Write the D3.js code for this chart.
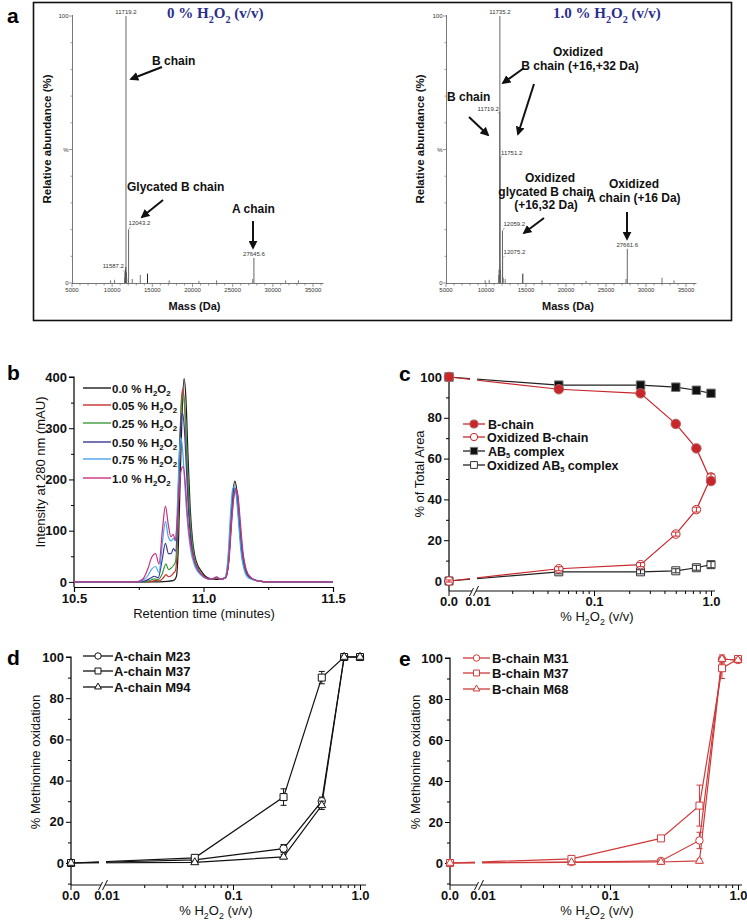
<!DOCTYPE html>
<html>
<head>
<meta charset="utf-8">
<script src="https://cdn.jsdelivr.net/npm/d3@7"></script>
<style>
  body { margin: 0; background: #fff; }
  svg { display: block; font-family: "Liberation Sans", Arial, Helvetica, sans-serif; }
</style>
</head>
<body>
<svg id="fig" width="747" height="920"></svg>
<script>
// ---------- data ----------
// panel a : deconvoluted mass spectra (mass in Da, relative abundance in %)
var massTicks = [5000, 10000, 15000, 20000, 25000, 30000, 35000];
var spec0Mass = [11587.2, 11719.2, 12043.2, 27645.6];
var spec0Abund = [4, 100, 20, 9.4];
var spec0Minor = [[9800, 1], [10300, 1.2], [11550, 2], [11650, 5], [11690, 6], [11760, 4], [11820, 2],
  [12500, 1.5], [13500, 3], [14400, 3.5], [17100, 1], [20800, 0.8], [23000, 1], [27500, 1.5], [31600, 1], [33200, 1]];
var spec1Mass = [11719.2, 11735.2, 11751.2, 12059.2, 12075.2, 27661.6];
var spec1Abund = [64, 100, 47, 19.5, 9.4, 12.8];
var spec1Minor = [[9900, 1], [10400, 1.2], [11600, 3], [11650, 5], [11690, 6], [11780, 5], [11830, 3],
  [12150, 2], [12400, 1.5], [14600, 3.5], [17000, 1], [22500, 0.8], [27500, 1.5], [32000, 2], [33500, 1]];

// panel b : chromatograms [time (min), mAU]
var chromLabels = ['0.0', '0.05', '0.25', '0.50', '0.75', '1.0'];
var chrom000 = [[10.5,0],[10.8,0],[10.86,1],[10.885,3],[10.895,10],[10.903,70],[10.91,200],[10.918,340],[10.925,397],[10.932,360],[10.94,250],[10.948,150],[10.957,85],[10.967,50],[10.978,32],[10.99,22],[11.005,12],[11.03,6],[11.06,5],[11.085,8],[11.097,40],[11.107,120],[11.115,180],[11.121,197],[11.128,180],[11.137,120],[11.147,60],[11.16,25],[11.18,8],[11.21,2],[11.25,0],[11.5,0]];
var chrom005 = [[10.5,0],[10.78,0],[10.8,1],[10.815,3],[10.83,2],[10.845,8],[10.855,14],[10.865,10],[10.875,12],[10.884,17],[10.892,22],[10.9,90],[10.907,230],[10.914,350],[10.92,377],[10.927,345],[10.935,250],[10.943,150],[10.952,85],[10.962,48],[10.975,28],[10.99,16],[11.005,9],[11.03,5],[11.05,7],[11.065,5],[11.085,8],[11.098,40],[11.11,125],[11.118,170],[11.125,182],[11.132,170],[11.14,120],[11.15,62],[11.163,25],[11.18,9],[11.21,2],[11.25,0],[11.5,0]];
var chrom025 = [[10.5,0],[10.77,0],[10.79,2],[10.81,6],[10.825,4],[10.84,15],[10.855,35],[10.865,24],[10.875,27],[10.884,32],[10.892,40],[10.9,110],[10.908,250],[10.915,345],[10.922,365],[10.929,330],[10.937,240],[10.945,150],[10.954,88],[10.964,50],[10.976,30],[10.99,17],[11.005,9],[11.03,5],[11.05,8],[11.065,5],[11.085,8],[11.097,40],[11.108,125],[11.117,172],[11.123,180],[11.13,172],[11.138,125],[11.148,65],[11.16,27],[11.18,9],[11.21,2],[11.25,0],[11.5,0]];
var chrom050 = [[10.5,0],[10.75,0],[10.775,2],[10.795,7],[10.81,11],[10.825,8],[10.84,42],[10.853,75],[10.865,55],[10.875,55],[10.884,65],[10.892,60],[10.9,130],[10.907,250],[10.914,320],[10.919,330],[10.926,300],[10.934,220],[10.942,140],[10.951,82],[10.962,45],[10.975,26],[10.99,15],[11.005,8],[11.03,5],[11.05,9],[11.065,5],[11.085,9],[11.096,45],[11.107,130],[11.115,178],[11.12,183],[11.128,170],[11.137,118],[11.147,60],[11.16,24],[11.18,8],[11.21,2],[11.25,0],[11.5,0]];
var chrom075 = [[10.5,0],[10.74,0],[10.765,3],[10.785,12],[10.8,25],[10.815,30],[10.828,18],[10.842,80],[10.853,118],[10.864,88],[10.875,80],[10.884,85],[10.892,80],[10.9,160],[10.907,255],[10.912,282],[10.918,265],[10.925,215],[10.933,150],[10.942,95],[10.952,58],[10.964,34],[10.978,20],[10.993,12],[11.01,7],[11.03,5],[11.05,9],[11.065,5],[11.083,9],[11.094,45],[11.104,130],[11.112,180],[11.118,186],[11.126,170],[11.135,118],[11.145,58],[11.158,22],[11.175,7],[11.21,2],[11.25,0],[11.5,0]];
var chrom100 = [[10.5,0],[10.74,0],[10.765,5],[10.785,25],[10.8,48],[10.815,55],[10.828,35],[10.842,105],[10.853,148],[10.864,112],[10.874,88],[10.883,93],[10.891,82],[10.9,130],[10.908,195],[10.916,222],[10.922,225],[10.93,190],[10.938,130],[10.947,85],[10.957,55],[10.97,33],[10.985,19],[11.0,11],[11.02,6],[11.04,7],[11.05,10],[11.065,5],[11.085,8],[11.097,40],[11.109,125],[11.118,170],[11.125,180],[11.133,168],[11.142,118],[11.152,60],[11.165,24],[11.183,8],[11.21,2],[11.25,0],[11.5,0]];

// panels c-e : % H2O2 (v/v)
var h2o2Dose = [0, 0.05, 0.25, 0.5, 0.75, 1.0];
var bChain = [100, 94, 92, 77, 65, 49];
var oxBChain = [0, 6, 8, 23, 35, 51];
var ab5 = [100, 96, 96, 95, 93.5, 92];
var oxAb5 = [0, 4.5, 4.5, 5, 6.5, 8];
var areaErr = [0.5, 1, 1, 1, 1.2, 1.5];

var aM23 = [0, 1.5, 7, 30, 100, 100];
var aM37 = [0, 2.5, 32, 90, 100, 100];
var aM94 = [0, 0.3, 3, 28, 100, 100];
var aM23Err = [0, 0.5, 2, 2, 0.5, 0.5];
var aM37Err = [0, 1, 4, 3, 0.5, 0.5];
var aM94Err = [0, 0.5, 1, 2, 0.5, 0.5];

var bM31 = [0, 0.5, 1, 11, 99.5, 99];
var bM37 = [0, 2, 12, 28, 95, 99.5];
var bM68 = [0, 0.3, 0.5, 1, 99.5, 99];
var bM31Err = [0, 0.5, 1, 4, 2, 1];
var bM37Err = [0, 1, 1, 10, 5, 1];
var bM68Err = [0, 0.5, 1, 1, 1, 1];

// ---------- helpers ----------
var svg = d3.select('#fig');
svg.append('rect').attr('width', 747).attr('height', 920).attr('fill', '#fff');
svg.append('defs').append('marker')
    .attr('id', 'arr').attr('viewBox', '0 0 10 10')
    .attr('refX', 8).attr('refY', 5)
    .attr('markerWidth', 4.5).attr('markerHeight', 4.5)
    .attr('orient', 'auto')
  .append('path').attr('d', 'M0,0L10,5L0,10z').attr('fill', '#111');

function h2o2Text(sel, before, after, size) {
  sel.append('tspan').text(before + 'H');
  sel.append('tspan').attr('font-size', size * 0.68).attr('dy', size * 0.3).text('2');
  sel.append('tspan').attr('dy', -size * 0.3).text('O');
  sel.append('tspan').attr('font-size', size * 0.68).attr('dy', size * 0.3).text('2');
  sel.append('tspan').attr('dy', -size * 0.3).text(after);
}

function panelLetter(txt, x, y) {
  svg.append('text').attr('x', x).attr('y', y)
    .attr('font-size', 21).attr('font-weight', 'bold').text(txt);
}

function label(g, txt, x, y, anchor, size, weight) {
  return g.append('text').attr('x', x).attr('y', y)
    .attr('text-anchor', anchor || 'start')
    .attr('font-size', size || 12).attr('font-weight', weight || 'bold')
    .attr('fill', '#111').text(txt);
}

function arrow(g, x1, y1, x2, y2) {
  g.append('line').attr('x1', x1).attr('y1', y1).attr('x2', x2).attr('y2', y2)
    .attr('stroke', '#111').attr('stroke-width', 2).attr('marker-end', 'url(#arr)');
}

// ---------- panel a ----------
svg.append('rect').attr('x', 33.5).attr('y', 2.5).attr('width', 698).attr('height', 318)
  .attr('fill', 'none').attr('stroke', '#111').attr('stroke-width', 1.6);
panelLetter('a', 7, 23);

function drawSpectrum(cfg) {
  var g = svg.append('g');
  var x = d3.scaleLinear().domain([5000, 35000]).range([cfg.x0, cfg.x1]);
  var y = d3.scaleLinear().domain([0, 100]).range([283, 16]);

  // axes
  g.append('line').attr('x1', x(5000)).attr('x2', x(36300)).attr('y1', 283.5).attr('y2', 283.5)
    .attr('stroke', '#555').attr('stroke-width', 0.8);
  g.append('line').attr('x1', x(5000) + 0.5).attr('x2', x(5000) + 0.5).attr('y1', 283.5).attr('y2', 15)
    .attr('stroke', '#555').attr('stroke-width', 0.8);
  g.selectAll('.mt').data(d3.range(5000, 36001, 1000)).enter().append('line')
    .attr('x1', function (d) { return x(d); }).attr('x2', function (d) { return x(d); })
    .attr('y1', 283.5).attr('y2', function (d) { return d % 5000 === 0 ? 287 : 285.5; })
    .attr('stroke', '#555').attr('stroke-width', 0.6);
  g.selectAll('.ml').data(massTicks).enter().append('text')
    .attr('x', function (d) { return x(d); }).attr('y', 292)
    .attr('text-anchor', 'middle').attr('font-size', 6).attr('fill', '#333').text(function (d) { return d; });
  g.selectAll('.yt').data(d3.range(0, 101, 10)).enter().append('line')
    .attr('x1', x(5000)).attr('x2', function (d) { return x(5000) - (d % 50 === 0 ? 3 : 1.5); })
    .attr('y1', function (d) { return y(d); }).attr('y2', function (d) { return y(d); })
    .attr('stroke', '#555').attr('stroke-width', 0.6);
  [[100, '100'], [50, '%'], [0, '0']].forEach(function (t) {
    g.append('text').attr('x', x(5000) - 3.5).attr('y', y(t[0]) + 2)
      .attr('text-anchor', 'end').attr('font-size', 6).attr('fill', '#333').text(t[1]);
  });

  // small peaks / noise
  g.selectAll('.np').data(cfg.minor).enter().append('line')
    .attr('x1', function (d) { return x(d[0]); }).attr('x2', function (d) { return x(d[0]); })
    .attr('y1', 283).attr('y2', function (d) { return y(d[1]); })
    .attr('stroke', function (d) { return d[1] > 3 ? '#222' : '#777'; }).attr('stroke-width', 1);

  // labelled peaks
  cfg.mass.forEach(function (m, i) {
    var px = x(m), py = y(cfg.abund[i]);
    g.append('line').attr('x1', px).attr('x2', px).attr('y1', 283).attr('y2', py)
      .attr('stroke', '#666').attr('stroke-width', 1);
    var lo = cfg.labelPos[i];
    if (lo[2] !== 'middle') {
      g.append('line').attr('x1', px).attr('y1', py)
        .attr('x2', px + (lo[2] === 'end' ? -2 : 2)).attr('y2', py + lo[1] + 2)
        .attr('stroke', '#777').attr('stroke-width', 0.6);
    }
    g.append('text').attr('x', px + lo[0]).attr('y', py + lo[1])
      .attr('text-anchor', lo[2]).attr('font-size', 6).attr('fill', '#333')
      .text(m.toFixed(1));
  });

  // axis titles
  g.append('text').attr('transform', 'translate(' + cfg.yTitleX + ',139) rotate(-90)')
    .attr('text-anchor', 'middle').attr('font-size', 11.5).attr('font-weight', 'bold')
    .attr('fill', '#111').text('Relative abundance (%)');
  g.append('text').attr('x', (x(5000) + x(35000)) / 2 + 2).attr('y', 310)
    .attr('text-anchor', 'middle').attr('font-size', 11).attr('font-weight', 'bold')
    .attr('fill', '#111').text('Mass (Da)');

  var t = g.append('text').attr('x', cfg.titleX).attr('y', 18)
    .attr('font-family', '"Liberation Serif", "Times New Roman", serif')
    .attr('font-size', 15).attr('font-weight', 'bold').attr('fill', '#2b2f8c');
  h2o2Text(t, cfg.title + ' % ', ' (v/v)', 15);
  return g;
}

var ga0 = drawSpectrum({
  x0: 72, x1: 313, minor: spec0Minor, mass: spec0Mass, abund: spec0Abund,
  labelPos: [[-1, -4, 'end'], [0, -2, 'middle'], [0, -5, 'start'], [0, -2, 'middle']],
  yTitleX: 51, titleX: 167, title: '0'
});
label(ga0, 'B chain', 152, 65);
arrow(ga0, 162, 67, 131, 79);
label(ga0, 'Glycated B chain', 127, 191);
arrow(ga0, 163, 200, 142, 217);
label(ga0, 'A chain', 232, 213);
arrow(ga0, 253, 221, 253, 248);

var ga1 = drawSpectrum({
  x0: 446, x1: 686, minor: spec1Minor, mass: spec1Mass, abund: spec1Abund,
  labelPos: [[-1, -1, 'end'], [0, -2, 'middle'], [1, -3, 'start'], [1, -5, 'start'], [1, -4, 'start'], [0, -2, 'middle']],
  yTitleX: 424, titleX: 553, title: '1.0'
});
label(ga1, 'Oxidized', 578, 56, 'middle');
label(ga1, 'B chain (+16,+32 Da)', 580, 70, 'middle');
arrow(ga1, 524, 68, 503, 83);
arrow(ga1, 534, 84, 518, 134);
label(ga1, 'B chain', 447, 101);
arrow(ga1, 469, 117, 488, 135);
label(ga1, 'Oxidized', 550, 182, 'middle');
label(ga1, 'glycated B chain', 546, 196, 'middle');
label(ga1, '(+16,32 Da)', 546, 209, 'middle');
arrow(ga1, 544, 218, 524, 233);
label(ga1, 'Oxidized', 634, 188, 'middle');
label(ga1, 'A chain (+16 Da)', 634, 202, 'middle');
arrow(ga1, 627, 212, 627, 239);

// ---------- panel b ----------
panelLetter('b', 7, 380);
(function () {
  var g = svg.append('g');
  var x = d3.scaleLinear().domain([10.5, 11.5]).range([74, 333]);
  var y = d3.scaleLinear().domain([-10, 400]).range([587, 377]);
  var traces = [chrom000, chrom005, chrom025, chrom050, chrom075, chrom100];
  var colors = ['#1c1c1c', '#c9322e', '#3c9a3c', '#3b3995', '#4aa3f2', '#c8317f'];

  var xa = g.append('g').attr('transform', 'translate(0,587)')
    .call(d3.axisBottom(x).tickValues([10.5, 11.0, 11.5]).tickSize(5).tickPadding(2).tickFormat(d3.format('.1f')));
  g.append('g').attr('transform', 'translate(0,587)')
    .call(d3.axisBottom(x).tickValues([10.75, 11.25]).tickSize(3).tickFormat(''))
    .select('.domain').remove();
  var ya = g.append('g').attr('transform', 'translate(74,0)')
    .call(d3.axisLeft(y).tickValues([0, 100, 200, 300, 400]).tickSize(5).tickPadding(2));
  g.append('g').attr('transform', 'translate(74,0)')
    .call(d3.axisLeft(y).tickValues([50, 150, 250, 350]).tickSize(3).tickFormat(''))
    .select('.domain').remove();
  [xa, ya].forEach(function (a) {
    a.select('.domain').attr('stroke-width', 1.2);
    a.selectAll('text').attr('font-size', 13).attr('font-weight', 'bold').attr('fill', '#111');
  });
  ya.select('.domain').attr('d', 'M-5,' + y(400) + 'H0V587');
  g.selectAll('.tick line').attr('stroke-width', 1);

  var line = d3.line().x(function (d) { return x(d[0]); }).y(function (d) { return y(d[1]); })
    .curve(d3.curveMonotoneX);
  traces.forEach(function (tr, i) {
    g.append('path').attr('d', line(tr)).attr('fill', 'none')
      .attr('stroke', colors[i]).attr('stroke-width', 1.2);
  });

  var rows = [388, 405, 423, 442, 459, 478];
  chromLabels.forEach(function (lab, i) {
    g.append('line').attr('x1', 83).attr('x2', 111).attr('y1', rows[i]).attr('y2', rows[i])
      .attr('stroke', colors[i]).attr('stroke-width', 1.4);
    var t = g.append('text').attr('x', 112).attr('y', rows[i] + 4.5)
      .attr('font-size', 11.5).attr('font-weight', 'bold').attr('fill', '#111');
    h2o2Text(t, lab + ' % ', '', 11.5);
  });

  g.append('text').attr('x', 204).attr('y', 618).attr('text-anchor', 'middle')
    .attr('font-size', 13).attr('fill', '#111').text('Retention time (minutes)');
  g.append('text').attr('transform', 'translate(45,472) rotate(-90)').attr('text-anchor', 'middle')
    .attr('font-size', 13).attr('fill', '#111').text('Intensity at 280 nm (mAU)');
})();

// ---------- dose axes helper (c, d, e) ----------
function doseX(zeroPx, left, right) {
  var lg = d3.scaleLog().domain([0.01, 1]).range([left, right]);
  var f = function (v) { return v <= 0 ? zeroPx : lg(v); };
  f.log = lg;
  f.zero = zeroPx;
  return f;
}

function doseAxes(g, x, y, cfg) {
  var ay = cfg.axisY;
  // x axis
  g.append('line').attr('x1', x.zero).attr('x2', cfg.xEnd).attr('y1', ay).attr('y2', ay)
    .attr('stroke', '#111').attr('stroke-width', 1.2);
  var minor = [0.02, 0.03, 0.04, 0.05, 0.06, 0.07, 0.08, 0.09, 0.2, 0.3, 0.4, 0.5, 0.6, 0.7, 0.8, 0.9];
  g.append('g').attr('transform', 'translate(0,' + ay + ')')
    .call(d3.axisBottom(x.log).tickValues(minor).tickSize(3).tickFormat(''))
    .select('.domain').remove();
  var xa = g.append('g').attr('transform', 'translate(0,' + ay + ')')
    .call(d3.axisBottom(x.log).tickValues([0.1, 1]).tickSize(5).tickPadding(3)
      .tickFormat(function (d) { return d3.format('.1f')(d); }));
  xa.select('.domain').remove();
  g.append('line').attr('x1', x.zero).attr('x2', x.zero).attr('y1', ay).attr('y2', ay + 5)
    .attr('stroke', '#111');
  var bx = x.log(0.01) - 3;
  g.append('rect').attr('x', bx - 2).attr('y', ay - 2).attr('width', 4).attr('height', 4).attr('fill', '#fff');
  [-2, 2].forEach(function (o) {
    g.append('line').attr('x1', bx + o - 2.5).attr('y1', ay + 5).attr('x2', bx + o + 2.5).attr('y2', ay - 5)
      .attr('stroke', '#111').attr('stroke-width', 1);
  });
  [[x.zero, '0.0'], [x.log(0.01) + 1, '0.01']].forEach(function (t) {
    g.append('text').attr('x', t[0]).attr('y', ay + 15).attr('text-anchor', 'middle').text(t[1]);
  });
  xa.selectAll('text').attr('dy', null).attr('y', 15);
  // y axis
  var ya = g.append('g').attr('transform', 'translate(' + x.zero + ',0)')
    .call(d3.axisLeft(y).tickValues([0, 20, 40, 60, 80, 100]).tickSize(5).tickPadding(2));
  ya.select('.domain').attr('d', 'M-5,' + y(100) + 'H0V' + ay).attr('stroke-width', 1.2);
  g.append('g').attr('transform', 'translate(' + x.zero + ',0)')
    .call(d3.axisLeft(y).tickValues(cfg.minorY).tickSize(3).tickFormat(''))
    .select('.domain').remove();
  g.selectAll('text').attr('font-size', 13).attr('font-weight', 'bold').attr('fill', '#111');

  var t = g.append('text').attr('x', cfg.titleX).attr('y', ay + 30).attr('text-anchor', 'middle')
    .attr('font-size', 13).attr('fill', '#111');
  h2o2Text(t, '% ', ' (v/v)', 13);
  g.append('text').attr('transform', 'translate(' + cfg.yTitleX + ',' + cfg.yTitleY + ') rotate(-90)')
    .attr('text-anchor', 'middle').attr('font-size', 13).attr('fill', '#111').text(cfg.yTitle);
}

// marker of pixel size s (diameter / side)
function markerPath(kind, s) {
  if (kind === 'circle') return d3.symbol().type(d3.symbolCircle).size(Math.PI * s * s / 4)();
  if (kind === 'square') return d3.symbol().type(d3.symbolSquare).size(s * s)();
  return d3.symbol().type(d3.symbolTriangle).size(Math.sqrt(3) / 4 * s * s)();
}

function drawSeries(g, x, y, s) {
  var pts = h2o2Dose.map(function (d, i) { return [x(d), y(s.values[i]), s.err ? s.err[i] : 0, s.values[i]]; });
  g.append('path').attr('d', d3.line()(pts.map(function (p) { return [p[0], p[1]]; })))
    .attr('fill', 'none').attr('stroke', s.color).attr('stroke-width', s.lw || 1.2);
  return pts;
}

function drawMarks(g, y, s, pts, capW) {
  function bars() {
    pts.forEach(function (p) {
      if (!p[2]) return;
      var y1 = y(p[3] - p[2]), y2 = y(p[3] + p[2]);
      g.append('path').attr('d', 'M' + p[0] + ',' + y1 + 'V' + y2 +
        'M' + (p[0] - capW) + ',' + y1 + 'H' + (p[0] + capW) +
        'M' + (p[0] - capW) + ',' + y2 + 'H' + (p[0] + capW))
        .attr('stroke', s.color).attr('stroke-width', 1).attr('fill', 'none');
    });
  }
  if (!s.barsOnTop) bars();
  pts.forEach(function (p) {
    g.append('path').attr('d', markerPath(s.marker, s.size))
      .attr('transform', 'translate(' + p[0] + ',' + p[1] + ')')
      .attr('fill', s.fill).attr('stroke', s.stroke || s.color).attr('stroke-width', 1);
  });
  if (s.barsOnTop) bars();
}

function breakGap(g, x, top, bottom) {
  var bx = x.log(0.01) - 3;
  g.append('rect').attr('x', bx - 4).attr('y', top).attr('width', 7).attr('height', bottom - top)
    .attr('fill', '#fff');
}

function legendRow(g, s, x1, x2, tx, yy, txt, sub, fs) {
  g.append('line').attr('x1', x1).attr('x2', x2).attr('y1', yy).attr('y2', yy)
    .attr('stroke', s.color).attr('stroke-width', 1.3);
  g.append('path').attr('d', markerPath(s.marker, s.size * 0.85))
    .attr('transform', 'translate(' + ((x1 + x2) / 2) + ',' + yy + ')')
    .attr('fill', s.fill).attr('stroke', s.stroke || s.color).attr('stroke-width', 1);
  var t = g.append('text').attr('x', tx).attr('y', yy + 4.5)
    .attr('font-size', fs || 13).attr('font-weight', 'bold').attr('fill', '#111');
  if (sub) {
    t.append('tspan').text(txt[0]);
    t.append('tspan').attr('font-size', 7.5).attr('dy', 2.5).text(sub);
    t.append('tspan').attr('dy', -2.5).text(txt[1]);
  } else {
    t.text(txt);
  }
}

// ---------- panel c ----------
panelLetter('c', 399, 381);
(function () {
  var g = svg.append('g');
  var x = doseX(449, 477, 711);
  var y = d3.scaleLinear().domain([0, 100]).range([581, 377]);
  var red = '#c8262b';
  var series = [
    { values: oxAb5, err: areaErr, color: '#222', marker: 'square', fill: '#fff', stroke: '#333', size: 8, barsOnTop: true },
    { values: ab5, err: areaErr, color: '#222', marker: 'square', fill: '#111', stroke: '#777', size: 8.5 },
    { values: oxBChain, err: areaErr, color: red, marker: 'circle', fill: '#fff', size: 8.5, barsOnTop: true },
    { values: bChain, err: areaErr, color: red, marker: 'circle', fill: red, stroke: '#b06060', size: 9.5 }
  ];
  doseAxes(g, x, y, { axisY: 591, xEnd: 715, minorY: [10, 30, 50, 70, 90], titleX: 597, yTitleX: 424, yTitleY: 474, yTitle: '% of Total Area' });
  var pts = series.map(function (s) { return drawSeries(g, x, y, s); });
  breakGap(g, x, 370, 588);
  series.forEach(function (s, i) { drawMarks(g, y, s, pts[i], 3.5); });

  legendRow(g, series[3], 463, 485, 488, 424, 'B-chain', null, 12.5);
  legendRow(g, series[2], 463, 485, 487, 437, 'Oxidized B-chain', null, 12.5);
  legendRow(g, series[1], 463, 485, 488, 451, ['AB', ' complex'], '5', 12.5);
  legendRow(g, series[0], 463, 485, 487, 465, ['Oxidized AB', ' complex'], '5', 12.5);
})();

// ---------- panel d ----------
panelLetter('d', 7, 665);
(function () {
  var g = svg.append('g');
  var x = doseX(71, 106, 360);
  var y = d3.scaleLinear().domain([0, 100]).range([863, 657]);
  var series = [
    { values: aM23, err: aM23Err, color: '#111', marker: 'circle', fill: '#fff', size: 7.5 },
    { values: aM37, err: aM37Err, color: '#111', marker: 'square', fill: '#fff', size: 7 },
    { values: aM94, err: aM94Err, color: '#111', marker: 'triangle', fill: '#fff', size: 8 }
  ];
  doseAxes(g, x, y, { axisY: 885, xEnd: 366, minorY: [-10, 10, 30, 50, 70, 90], titleX: 216, yTitleX: 40, yTitleY: 762, yTitle: '% Methionine oxidation' });
  var pts = series.map(function (s) { return drawSeries(g, x, y, s); });
  breakGap(g, x, 650, 882);
  series.forEach(function (s, i) { drawMarks(g, y, s, pts[i], 3); });
  legendRow(g, series[0], 83, 113, 114, 656, 'A-chain M23');
  legendRow(g, series[1], 83, 113, 114, 671, 'A-chain M37');
  legendRow(g, series[2], 83, 113, 114, 687, 'A-chain M94');
})();

// ---------- panel e ----------
panelLetter('e', 399, 666);
(function () {
  var g = svg.append('g');
  var x = doseX(450, 482, 738);
  var y = d3.scaleLinear().domain([0, 100]).range([863, 658]);
  var red = '#d03a3a';
  var series = [
    { values: bM31, err: bM31Err, color: red, marker: 'circle', fill: '#fff', size: 7.5 },
    { values: bM37, err: bM37Err, color: red, marker: 'square', fill: '#fff', size: 7 },
    { values: bM68, err: bM68Err, color: red, marker: 'triangle', fill: '#fff', size: 8 }
  ];
  doseAxes(g, x, y, { axisY: 885, xEnd: 742, minorY: [-10, 10, 30, 50, 70, 90], titleX: 597, yTitleX: 420, yTitleY: 762, yTitle: '% Methionine oxidation' });
  var pts = series.map(function (s) { return drawSeries(g, x, y, s); });
  breakGap(g, x, 650, 882);
  series.forEach(function (s, i) { drawMarks(g, y, s, pts[i], 3); });
  legendRow(g, series[0], 463, 490, 492, 658, 'B-chain M31');
  legendRow(g, series[1], 463, 490, 492, 673, 'B-chain M37');
  legendRow(g, series[2], 463, 490, 492, 689, 'B-chain M68');
})();
</script>
</body>
</html>
